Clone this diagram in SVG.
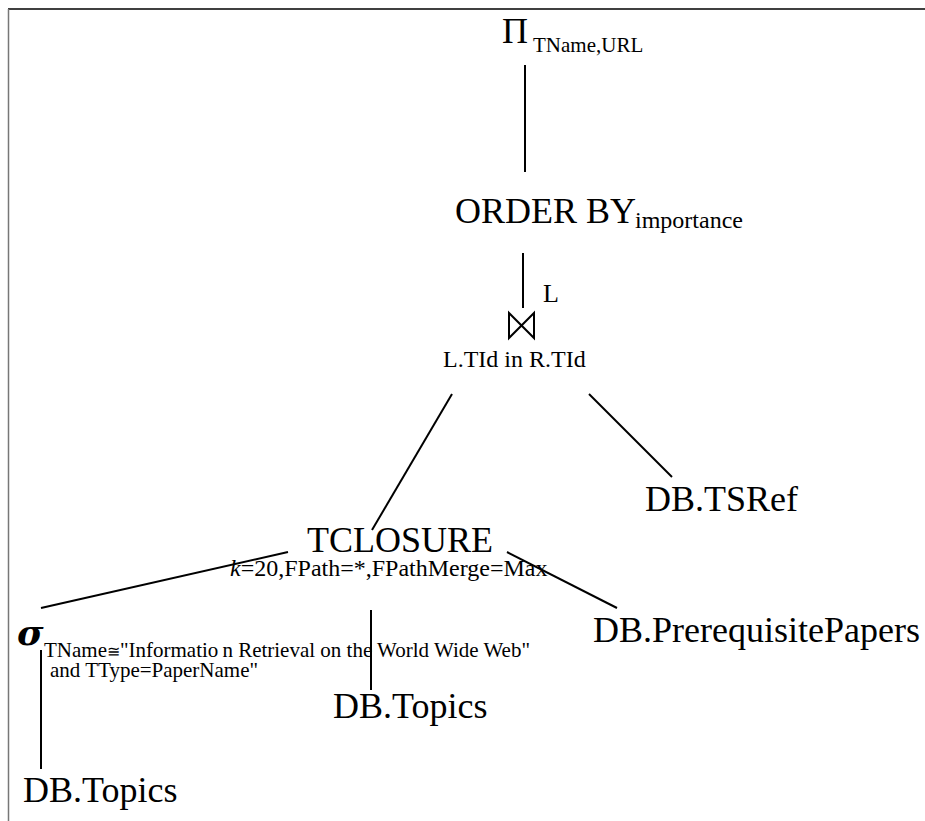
<svg xmlns="http://www.w3.org/2000/svg" width="925" height="821" viewBox="0 0 925 821">
<style>
.t{font-family:"Liberation Serif","Times New Roman",serif;fill:#000}
.big{font-size:36px}
.sub{font-size:21px}
.mid{font-size:24px}
.c line{stroke:#000;stroke-width:2}
.sym{fill:none;stroke:#000;stroke-width:2;stroke-linejoin:miter}
</style>
<rect width="925" height="821" fill="#fff"/>
<line x1="8" y1="9" x2="925" y2="9" stroke="#000" stroke-width="1.6"/>
<line x1="8.5" y1="9" x2="8.5" y2="821" stroke="#777" stroke-width="1.5"/>
<g class="c" id="connectors">
<line x1="525" y1="65" x2="525" y2="172"/>
<line x1="523" y1="253" x2="523" y2="308"/>
<line x1="452" y1="394" x2="372" y2="530"/>
<line x1="589" y1="394" x2="672" y2="477"/>
<line x1="288" y1="552" x2="41" y2="608"/>
<line x1="507" y1="552" x2="617" y2="608"/>
<line x1="371" y1="610" x2="371" y2="690"/>
<line x1="41" y1="650" x2="41" y2="769"/>
</g>
<g id="project">
<text class="t big" x="502" y="43">Π</text>
<text class="t sub" x="533" y="52">TName,URL</text>
</g>
<g id="orderby">
<text class="t big" x="455" y="223">ORDER BY</text>
<text class="t mid" x="635" y="228">importance</text>
</g>
<g id="join">
<text class="t" x="543" y="302" font-size="26">L</text>
<path class="sym" d="M509,313 V338 L534,313 V338 Z"/>
<text class="t mid" x="443" y="367">L.TId in R.TId</text>
</g>
<g id="tsref">
<text class="t big" x="645" y="511">DB.TSRef</text>
</g>
<g id="tclosure">
<text class="t big" x="307" y="552">TCLOSURE</text>
<text class="t mid" x="230" y="576"><tspan font-style="italic">k</tspan>=20,FPath=*,FPathMerge=Max</text>
</g>
<g id="select">
<text x="17" y="645" font-family="DejaVu Serif,serif" font-size="36" font-style="italic" font-weight="bold">σ</text>
<text class="t sub" x="44" y="657">TName<tspan font-family="DejaVu Serif,serif" font-size="16">≅</tspan>"Informatio<tspan dx="4">n</tspan> Retrieval on the World Wide Web"</text>
<text class="t sub" x="50" y="677"> and TType=PaperName"</text>
</g>
<g id="prereq">
<text class="t big" x="593" y="642">DB.PrerequisitePapers</text>
</g>
<g id="topics-mid">
<text class="t big" x="333" y="718">DB.Topics</text>
</g>
<g id="topics-bottom">
<text class="t big" x="23" y="802">DB.Topics</text>
</g>
</svg>
